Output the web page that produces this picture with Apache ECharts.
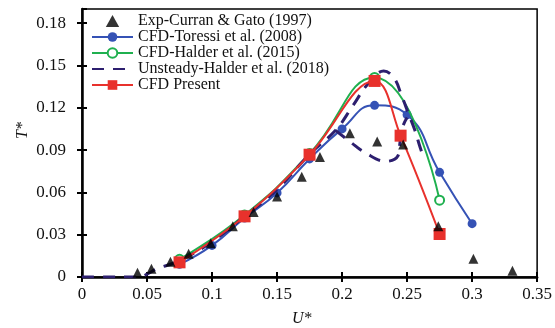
<!DOCTYPE html>
<html><head><meta charset="utf-8">
<script src="https://cdn.jsdelivr.net/npm/echarts@6/dist/echarts.min.js"></script>
<style>html,body{margin:0;padding:0;background:#fff}#c{width:555px;height:328px}</style>
</head><body><div id="c"></div>
<script>
const seriesNames = ['Exp-Curran & Gato (1997)', 'CFD-Toressi et al. (2008)', 'CFD-Halder et al. (2015)', 'Unsteady-Halder et al. (2018)', 'CFD Present'];
const xTickLabels = ['0', '0.05', '0.1', '0.15', '0.2', '0.25', '0.3', '0.35'];
const yTickLabels = ['0', '0.03', '0.06', '0.09', '0.12', '0.15', '0.18'];

const expX = [0.0427, 0.0534, 0.068, 0.082, 0.099, 0.116, 0.132, 0.150, 0.169, 0.183, 0.206, 0.227, 0.247, 0.274, 0.301, 0.331];
const expY = [0.003, 0.0059, 0.0108, 0.0165, 0.024, 0.036, 0.046, 0.057, 0.071, 0.085, 0.102, 0.096, 0.094, 0.036, 0.013, 0.0045];

const toressiX = [0.075, 0.1, 0.125, 0.15, 0.175, 0.2, 0.225, 0.25, 0.275, 0.3];
const toressiY = [0.009, 0.0224, 0.0418, 0.0596, 0.0837, 0.105, 0.1217, 0.115, 0.0742, 0.0378];

const halder15X = [0.075, 0.125, 0.175, 0.225, 0.275];
const halder15Y = [0.0125, 0.044, 0.0875, 0.1415, 0.0545];

const unsteadyX = [0, 0.02, 0.044, 0.05, 0.058, 0.075, 0.1, 0.125, 0.15, 0.175, 0.195, 0.208, 0.22, 0.232, 0.240, 0.246, 0.251, 0.256, 0.260, 0.263];
const unsteadyY = [0, 0, 0, 0.002, 0.006, 0.0115, 0.025, 0.043, 0.062, 0.087, 0.104, 0.121, 0.137, 0.146, 0.141, 0.128, 0.116, 0.104, 0.092, 0.084];
const unsteadyLoopX = [0.195, 0.206, 0.218, 0.234, 0.243, 0.2445, 0.246, 0.25];
const unsteadyLoopY = [0.104, 0.096, 0.088, 0.082, 0.086, 0.095, 0.105, 0.113];

const presentX = [0.075, 0.125, 0.175, 0.225, 0.245, 0.275];
const presentY = [0.0104, 0.043, 0.0867, 0.139, 0.1002, 0.0305];

function pairs(xs, ys) { return xs.map((x, i) => [x, ys[i]]); }

const FONT = 'Liberation Serif';
const chart = echarts.init(document.getElementById('c'), null, { renderer: 'canvas' });

function xFmt(v) {
  const i = Math.round(v / 0.05);
  return Math.abs(v - i * 0.05) < 1e-6 && i < xTickLabels.length ? xTickLabels[i] : '';
}
function yFmt(v) {
  const i = Math.round(v / 0.03);
  return Math.abs(v - i * 0.03) < 1e-6 && i < yTickLabels.length ? yTickLabels[i] : '';
}

const dashColor = '#2d1f6f';
const option = {
  animation: false,
  backgroundColor: '#fff',
  grid: { left: 82, right: 15, top: 9, bottom: 51, show: true, borderColor: '#000', borderWidth: 1.5, backgroundColor: 'transparent' },
  legend: {
    left: 86, top: 8, orient: 'vertical', itemWidth: 41, itemHeight: 12, itemGap: 0,
    symbolKeepAspect: true,
    data: [
      { name: seriesNames[0], icon: 'path://M5,0L10,9L0,9Z' },
      { name: seriesNames[1] },
      { name: seriesNames[2] },
      { name: seriesNames[3], itemStyle: { color: 'rgba(0,0,0,0)', borderWidth: 0, opacity: 0 } },
      { name: seriesNames[4] }
    ],
    textStyle: { fontFamily: FONT, fontSize: 16, color: '#111', lineHeight: 16 },
    selectedMode: false
  },
  xAxis: [{
    type: 'value', min: 0, max: 0.35, interval: 0.05,
    axisLine: { show: true, lineStyle: { color: '#000', width: 2.5 } },
    axisTick: { show: true, length: 5, lineStyle: { color: '#000', width: 2 } },
    axisLabel: { formatter: xFmt, fontFamily: FONT, fontSize: 17, color: '#111', margin: 9 },
    splitLine: { show: false }
  }, {
    type: 'value', min: 0, max: 0.35, interval: 0.05, position: 'bottom',
    axisLine: { show: false }, axisLabel: { show: false }, splitLine: { show: false },
    axisTick: { show: true, inside: true, length: 5, lineStyle: { color: '#000', width: 2 } }
  }],
  yAxis: [{
    type: 'value', min: 0, max: 0.19, interval: 0.03,
    axisLine: { show: true, lineStyle: { color: '#000', width: 2.5 } },
    axisTick: { show: true, length: 5, lineStyle: { color: '#000', width: 2 } },
    axisLabel: { formatter: yFmt, fontFamily: FONT, fontSize: 17, color: '#111', margin: 16, showMaxLabel: false },
    splitLine: { show: false }
  }, {
    type: 'value', min: 0, max: 0.19, interval: 0.03, position: 'left',
    axisLine: { show: false }, axisLabel: { show: false }, splitLine: { show: false },
    axisTick: { show: true, inside: true, length: 5, lineStyle: { color: '#000', width: 2 } }
  }],
  graphic: [
    { type: 'text', left: 15, top: 122, rotation: Math.PI / 2, style: { text: 'T*', font: 'italic 16px "Liberation Serif"', fill: '#111' } },
    { type: 'text', left: 292, top: 311, style: { text: 'U*', font: 'italic 16px "Liberation Serif"', fill: '#111' } }
  ],
  series: [
    {
      name: seriesNames[1], type: 'line', smooth: 0.5, data: pairs(toressiX, toressiY),
      symbol: 'circle', symbolSize: 9, showAllSymbol: true,
      itemStyle: { color: '#3552b5' }, lineStyle: { color: '#3552b5', width: 2 }, z: 3
    },
    {
      name: seriesNames[2], type: 'line', smooth: 0.5, data: pairs(halder15X, halder15Y),
      symbol: 'emptyCircle', symbolSize: 9,
      itemStyle: { color: '#1fb04f', borderWidth: 1.5 }, lineStyle: { color: '#1fb04f', width: 2 }, z: 4
    },
    {
      name: seriesNames[3], type: 'line', smooth: 0.4, data: pairs(unsteadyX, unsteadyY),
      showSymbol: false, symbol: 'none',
      itemStyle: { color: dashColor }, lineStyle: { color: dashColor, width: 3, type: [12, 9] }, z: 5
    },
    {
      name: seriesNames[3], type: 'line', smooth: 0.4, data: pairs(unsteadyLoopX, unsteadyLoopY),
      showSymbol: false, symbol: 'none',
      itemStyle: { color: dashColor }, lineStyle: { color: dashColor, width: 3, type: [12, 9] }, z: 5
    },
    {
      name: seriesNames[4], type: 'line', smooth: 0.4, data: pairs(presentX, presentY),
      symbol: 'rect', symbolSize: 12,
      itemStyle: { color: '#e8312c' }, lineStyle: { color: '#e8312c', width: 2 }, z: 6
    },
    {
      name: seriesNames[0], type: 'scatter', data: pairs(expX, expY),
      symbol: 'triangle', symbolSize: 10, symbolKeepAspect: true,
      itemStyle: { color: '#000' }, z: 7
    }
  ]
};
chart.setOption(option);
</script>
</body></html>
